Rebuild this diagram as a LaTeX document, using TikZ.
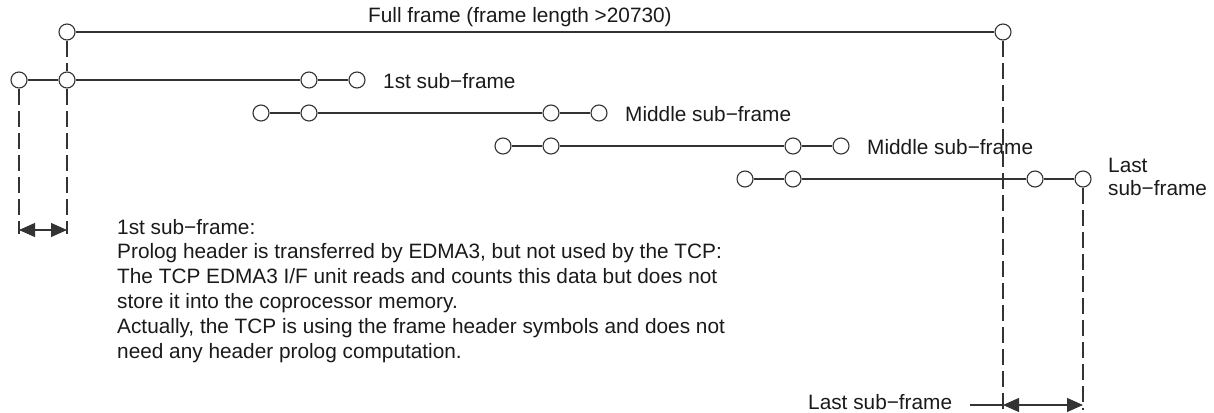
\documentclass[tikz,border=0pt]{standalone}
\usepackage{fontspec}
\setmainfont{Liberation Sans}
\usetikzlibrary{arrows.meta}
\definecolor{linec}{HTML}{333333}
\definecolor{textc}{HTML}{1A1A1A}
\begin{document}
\begin{tikzpicture}[x=1pt,y=-1pt,
  pt/.style={circle,draw=linec,fill=white,minimum size=16pt,inner sep=0pt,line width=1.1pt},
  lab/.style={anchor=base west,inner sep=0pt,font=\fontsize{20.8}{25}\selectfont,text=textc},
  conn/.style={draw=linec,line width=1.1pt},
  dashline/.style={draw=linec,line width=1.1pt,dash pattern=on 16pt off 6pt},
  dimarrow/.style={draw=linec,fill=linec,line width=1.1pt,arrows={Triangle[length=16pt,width=14pt]-Triangle[length=16pt,width=14pt]}}
]
\useasboundingbox (0,0) rectangle (1214,412);

% full frame
\node[pt] (f1) at (67,32) {};
\node[pt] (f2) at (1003,32) {};
\draw[conn] (f1) -- (f2);
\node[lab] (ftxt) at (368,23) {Full frame (frame length >20730)};

% 1st sub-frame
\node[pt] (a1) at (19,80) {};
\node[pt] (a2) at (67,80) {};
\node[pt] (a3) at (309,80) {};
\node[pt] (a4) at (357,80) {};
\draw[conn] (a1) -- (a2) -- (a3) -- (a4);
\node[lab] (atxt) at (383,88) {1st sub−frame};

% middle sub-frame 1
\node[pt] (b1) at (261,113) {};
\node[pt] (b2) at (309,113) {};
\node[pt] (b3) at (551,113) {};
\node[pt] (b4) at (599,113) {};
\draw[conn] (b1) -- (b2) -- (b3) -- (b4);
\node[lab] (btxt) at (625,121) {Middle sub−frame};

% middle sub-frame 2
\node[pt] (c1) at (503,146) {};
\node[pt] (c2) at (551,146) {};
\node[pt] (c3) at (793,146) {};
\node[pt] (c4) at (841,146) {};
\draw[conn] (c1) -- (c2) -- (c3) -- (c4);
\node[lab] (ctxt) at (867,154) {Middle sub−frame};

% last sub-frame
\node[pt] (d1) at (745,179) {};
\node[pt] (d2) at (793,179) {};
\node[pt] (d3) at (1035,179) {};
\node[pt] (d4) at (1083,179) {};
\draw[conn] (d1) -- (d2) -- (d3) -- (d4);
\node[lab] (dtxtA) at (1108,172) {Last};
\node[lab] (dtxtB) at (1108,195) {sub−frame};

% left dimension
\coordinate (l1) at (19,234);
\coordinate (l2) at (67,234);
\coordinate (la) at (19,230);
\coordinate (lb) at (67,230);
\draw[dashline] (a1) -- (l1);
\draw[dashline] (f1) -- (a2);
\draw[dashline] (a2) -- (l2);
\draw[dimarrow] (la) -- (lb);

% right dimension
\coordinate (r1) at (1003,410);
\coordinate (r2) at (1083,410);
\coordinate (ra) at (1003,405);
\coordinate (rb) at (1083,405);
\coordinate (rc) at (970,405);
\draw[dashline] (f2) -- (r1);
\draw[dashline] (d4) -- (r2);
\draw[dimarrow] (ra) -- (rb);
\draw[conn] (rc) -- (ra);
\node[lab] (rtxt) at (808,409) {Last sub−frame};

% description text
\node[lab] (t1) at (117,234) {1st sub−frame:};
\node[lab] (t2) at (117,258.5) {Prolog header is transferred by EDMA3, but not used by the TCP:};
\node[lab] (t3) at (117,283) {The TCP EDMA3 I/F unit reads and counts this data but does not};
\node[lab] (t4) at (117,308) {store it into the coprocessor memory.};
\node[lab] (t5) at (117,333) {Actually, the TCP is using the frame header symbols and does not};
\node[lab] (t6) at (117,358) {need any header prolog computation.};
\end{tikzpicture}
\end{document}
